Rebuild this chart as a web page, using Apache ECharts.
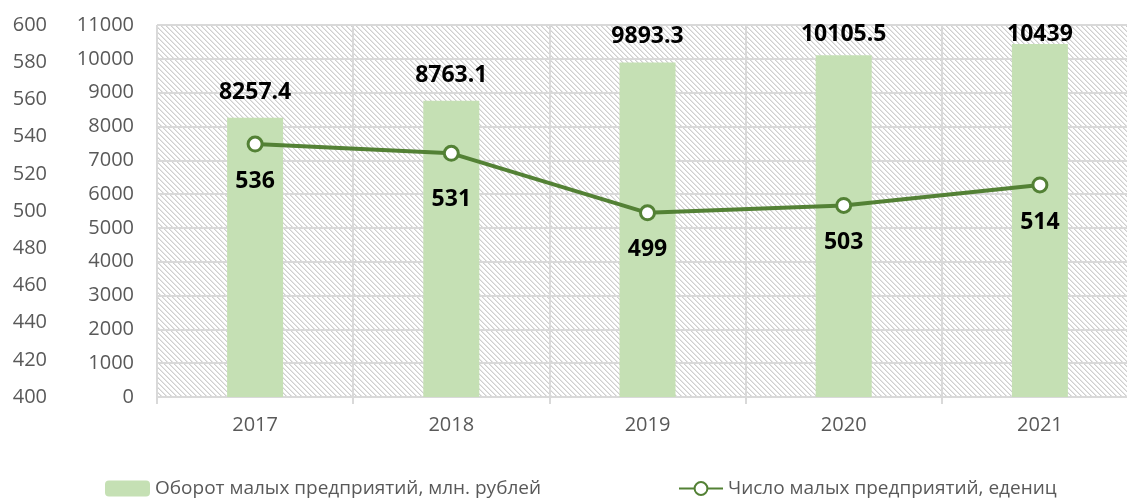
<!DOCTYPE html>
<html>
<head>
<meta charset="utf-8">
<script src="https://cdn.jsdelivr.net/npm/echarts@6/dist/echarts.min.js"></script>
<style>
  html, body { margin: 0; padding: 0; background: #fff; }
  #chart { width: 1127px; height: 499px; }
</style>
</head>
<body>
<div id="chart"></div>
<script>
const years = ['2017', '2018', '2019', '2020', '2021'];
const turnover = [8257.4, 8763.1, 9893.3, 10105.5, 10439];
const firms = [536, 531, 499, 503, 514];
const turnoverName = 'Оборот малых предприятий, млн. рублей';
const firmsName = 'Число малых предприятий, едениц';

const FONT = '"Open Sans", "Noto Sans", sans-serif';

// diagonal hatch like excel "wide downward diagonal"
const makeHatch = () => {
  const n = 5;
  const c = document.createElement('canvas');
  c.width = n;
  c.height = n;
  const ctx = c.getContext('2d');
  ctx.fillStyle = '#ffffff';
  ctx.fillRect(0, 0, n, n);
  ctx.fillStyle = '#cfcfcf';
  for (let i = 0; i < n; i++) {
    ctx.fillRect(i, i, 1, 1);
  }
  ctx.fillStyle = '#e6e6e6';
  for (let i = 0; i < n; i++) {
    ctx.fillRect((i + 1) % n, i, 1, 1);
  }
  return c;
};

// excel pushes the top two labels down to stay inside the plot
const barLabelShift = [0, 0, 0, 5, 16];
const lineLabelShift = [0, 9, 0, 0, 0];

const chart = echarts.init(document.getElementById('chart'));

const option = {
  animation: false,
  textStyle: { fontFamily: FONT },
  legend: [
    {
      data: [turnoverName],
      left: 100,
      top: 474,
      itemWidth: 45,
      itemHeight: 16,
      itemGap: 5,
      textStyle: { fontSize: 19, color: '#595959', fontFamily: FONT }
    },
    {
      data: [firmsName],
      left: 673,
      top: 474,
      itemWidth: 44,
      itemHeight: 16,
      textStyle: { fontSize: 19, color: '#595959', fontFamily: FONT }
    }
  ],
  grid: {
    left: 157,
    width: 981,
    top: 25,
    height: 372,
    outerBoundsMode: 'none',
    containLabel: false,
    show: true,
    borderWidth: 0,
    backgroundColor: { image: makeHatch(), repeat: 'repeat' }
  },
  xAxis: {
    type: 'category',
    data: years,
    axisLine: { lineStyle: { color: '#d9d9d9', width: 2 } },
    axisTick: { show: true, length: 7, lineStyle: { color: '#d9d9d9', width: 2 } },
    splitLine: { show: true, lineStyle: { color: '#d9d9d9', width: 2 } },
    axisLabel: { fontSize: 20, color: '#595959', margin: 18, fontFamily: FONT }
  },
  yAxis: [
    {
      type: 'value',
      min: 0,
      max: 11000,
      interval: 1000,
      position: 'left',
      axisLine: { show: false },
      axisTick: { show: false },
      splitLine: { lineStyle: { color: '#d9d9d9', width: 2 } },
      axisLabel: {
        fontSize: 20, color: '#595959', margin: 23, fontFamily: FONT,
        formatter: (v) => String(v)
      }
    },
    {
      type: 'value',
      min: 400,
      max: 600,
      interval: 20,
      position: 'left',
      offset: 87,
      axisLine: { show: false },
      axisTick: { show: false },
      splitLine: { show: false },
      axisLabel: {
        fontSize: 20, color: '#595959', margin: 23, fontFamily: FONT,
        formatter: (v) => String(v)
      }
    }
  ],
  series: [
    {
      name: turnoverName,
      type: 'bar',
      yAxisIndex: 0,
      barWidth: 56,
      itemStyle: { color: '#c5e0b4' },
      data: turnover.map((v, i) => ({
        value: v,
        label: { offset: [0, barLabelShift[i]] }
      })),
      label: {
        show: true,
        position: 'top',
        distance: 14,
        fontSize: 23,
        fontWeight: 'bold',
        color: '#000',
        fontFamily: FONT
      },
      z: 2
    },
    {
      name: firmsName,
      type: 'line',
      yAxisIndex: 1,
      symbol: 'circle',
      symbolSize: 14,
      lineStyle: { color: '#538135', width: 4 },
      itemStyle: { color: '#fff', borderColor: '#538135', borderWidth: 3 },
      data: firms.map((v, i) => ({
        value: v,
        label: { offset: [0, lineLabelShift[i]] }
      })),
      label: {
        show: true,
        position: 'bottom',
        distance: 17,
        fontSize: 23,
        fontWeight: 'bold',
        color: '#000',
        fontFamily: FONT
      },
      z: 3
    }
  ]
};

chart.setOption(option);
</script>
</body>
</html>
